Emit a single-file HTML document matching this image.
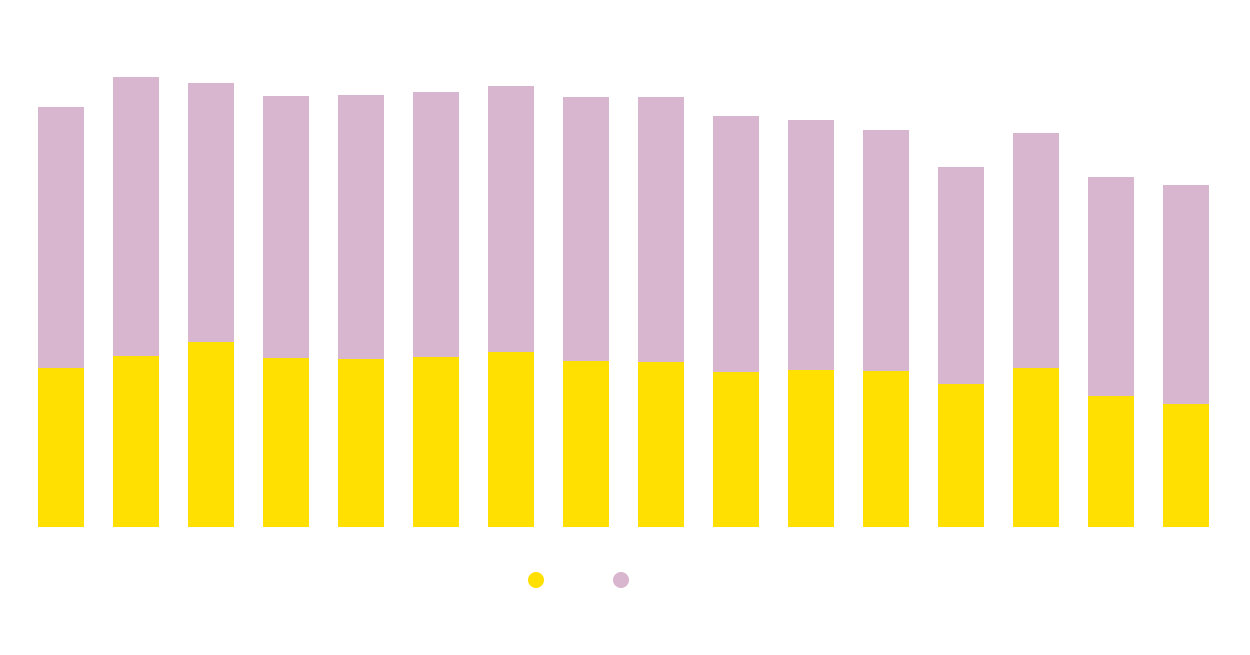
<!DOCTYPE html>
<html>
<head>
<meta charset="utf-8">
<style>
  html, body { margin: 0; padding: 0; background: #ffffff; }
  body { width: 1250px; height: 650px; overflow: hidden; font-family: "Liberation Sans", sans-serif; }
</style>
</head>
<body>
<svg width="1250" height="650" viewBox="0 0 1250 650" xmlns="http://www.w3.org/2000/svg">
  <rect width="1250" height="650" fill="#ffffff"/>
  <g id="bars"></g>
  <circle cx="536" cy="580" r="8" fill="#FFE000"/>
  <circle cx="621" cy="580" r="8" fill="#D8B6D0"/>
</svg>
<script>
  var purple = [107, 77, 83, 96, 95, 92, 86, 97, 97, 116, 120, 130, 167, 133, 177, 185];
  var yellow = [368, 356, 342, 358, 359, 357, 352, 361, 362, 372, 370, 371, 384, 368, 396, 404];
  var bottom = 527;
  var g = document.getElementById('bars');
  var ns = 'http://www.w3.org/2000/svg';
  for (var i = 0; i < 16; i++) {
    var x = 38 + 75 * i;
    var p = document.createElementNS(ns, 'rect');
    p.setAttribute('x', x); p.setAttribute('y', purple[i]);
    p.setAttribute('width', 46); p.setAttribute('height', yellow[i] - purple[i]);
    p.setAttribute('fill', '#D8B6D0');
    g.appendChild(p);
    var y = document.createElementNS(ns, 'rect');
    y.setAttribute('x', x); y.setAttribute('y', yellow[i]);
    y.setAttribute('width', 46); y.setAttribute('height', bottom - yellow[i]);
    y.setAttribute('fill', '#FFE000');
    g.appendChild(y);
  }
</script>
</body>
</html>
